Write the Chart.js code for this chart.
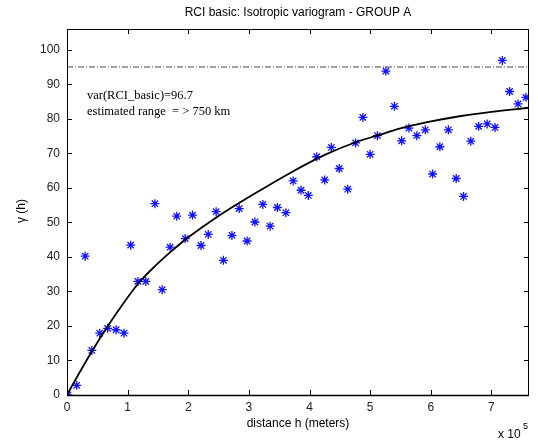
<!DOCTYPE html>
<html>
<head>
<meta charset="utf-8">
<script src="https://cdn.jsdelivr.net/npm/chart.js@4"></script>
<style>
  body { margin: 0; background: #fff; }
  canvas { display: block; }
</style>
</head>
<body>
<canvas id="vario" width="538" height="440"></canvas>
<script>
// experimental variogram (lag distance in meters, semivariance)
const lagDist = [1500, 16000, 30000, 41000, 54000, 67000, 81000, 94000, 105000, 117000,
  130000, 145000, 157000, 170000, 181000, 195000, 207000, 221000, 233000, 246000,
  258000, 272000, 284000, 297000, 310000, 323000, 335000, 347000, 361000, 373000,
  386000, 398000, 412000, 425000, 436000, 449000, 463000, 476000, 488000, 500000,
  512000, 526000, 540000, 552000, 564000, 577000, 591000, 603000, 615000, 629000,
  642000, 654000, 666000, 679000, 693000, 706000, 718000, 730000, 744000, 757000];
const gammaVals = [0, 2.8, 40.2, 12.9, 17.9, 19.3, 18.9, 17.9, 43.4, 32.9,
  32.9, 55.4, 30.5, 42.8, 51.8, 45.3, 52.1, 43.3, 46.5, 53.1,
  39.0, 46.2, 54.0, 44.6, 50.1, 55.2, 48.9, 54.3, 52.8, 62.0,
  59.3, 57.8, 69.0, 62.3, 71.7, 65.6, 59.6, 73.0, 80.4, 69.7,
  75.1, 93.8, 83.6, 73.6, 77.3, 75.1, 76.8, 64.0, 71.9, 76.8,
  62.7, 57.5, 73.5, 77.8, 78.5, 77.5, 96.9, 87.9, 84.3, 86.2];

// fitted model curve
const modelDist = [0, 10000, 20000, 40000, 66000, 96000, 120000, 145000, 170000, 198000,
  236000, 269000, 316000, 371000, 426000, 476000, 511000, 550000, 594000, 650000, 700000, 762000];
const modelGamma = [0, 3.2, 6.3, 12.3, 19.6, 27.3, 32.8, 37.3, 41.3, 45.4,
  50.2, 54.0, 59.0, 64.6, 69.6, 73.2, 75.1, 77.2, 79.0, 80.8, 82.0, 83.2];

const sill = 95;
const xMax = 762000;
const yMax = 106;
const xTicks = [0, 1, 2, 3, 4, 5, 6, 7];   // x 10^5 m
const yTicks = [0, 10, 20, 30, 40, 50, 60, 70, 80, 90, 100];

const tickFont = { family: 'Liberation Sans, Arial, sans-serif', size: 12 };

const matlabBox = {
  id: 'matlabBox',
  afterDraw(chart) {
    const { ctx, chartArea: a, scales: { x, y } } = chart;
    ctx.save();
    ctx.strokeStyle = '#000';
    ctx.lineWidth = 1;
    ctx.strokeRect(a.left + 0.5, a.top + 0.5, a.right - a.left - 1, a.bottom - a.top);
    ctx.beginPath();
    xTicks.forEach(t => {
      const px = Math.round(x.getPixelForValue(t * 1e5)) + 0.5;
      ctx.moveTo(px, a.bottom); ctx.lineTo(px, a.bottom - 5);
      ctx.moveTo(px, a.top); ctx.lineTo(px, a.top + 5);
    });
    yTicks.forEach(t => {
      const py = Math.round(y.getPixelForValue(t)) + 0.5;
      ctx.moveTo(a.left, py); ctx.lineTo(a.left + 5, py);
      ctx.moveTo(a.right, py); ctx.lineTo(a.right - 5, py);
    });
    ctx.stroke();
    // bottom axis line a bit heavier like the original
    ctx.lineWidth = 1.5;
    ctx.beginPath();
    ctx.moveTo(a.left, a.bottom + 0.5); ctx.lineTo(a.right, a.bottom + 0.5);
    ctx.stroke();

    ctx.fillStyle = '#000';
    ctx.font = '12px "Liberation Sans", Arial, sans-serif';
    ctx.textAlign = 'center';
    ctx.textBaseline = 'middle';
    ctx.fillText('RCI basic: Isotropic variogram - GROUP A', (a.left + a.right) / 2, 13);
    ctx.fillText('distance h (meters)', (a.left + a.right) / 2, 424);
    ctx.textAlign = 'left';
    ctx.fillText('x 10', 498, 435);
    ctx.font = '9px "Liberation Sans", Arial, sans-serif';
    ctx.fillText('5', 523, 427);

    ctx.save();
    ctx.translate(22, 211);
    ctx.rotate(-Math.PI / 2);
    ctx.font = '12px "Liberation Sans", Arial, sans-serif';
    ctx.textAlign = 'center';
    ctx.fillText('\u03b3 (h)', 0, 0);
    ctx.restore();

    ctx.font = '12.5px "Liberation Serif", "Times New Roman", serif';
    ctx.textAlign = 'left';
    ctx.fillText('var(RCI_basic)=96.7', 87, 96);
    ctx.fillText('estimated range  = > 750 km', 87, 112);
    ctx.restore();
  }
};

new Chart(document.getElementById('vario'), {
  type: 'scatter',
  data: {
    datasets: [
      {
        label: 'sill',
        type: 'line',
        data: [{ x: 0, y: sill }, { x: xMax, y: sill }],
        borderColor: '#444',
        borderWidth: 1,
        borderDash: [6, 2, 1, 2],
        pointRadius: 0
      },
      {
        label: 'model',
        type: 'line',
        data: modelDist.map((d, i) => ({ x: d, y: modelGamma[i] })),
        borderColor: '#000',
        borderWidth: 1.8,
        pointRadius: 0,
        cubicInterpolationMode: 'monotone'
      },
      {
        label: 'experimental',
        data: lagDist.map((d, i) => ({ x: d, y: gammaVals[i] })),
        pointStyle: 'star',
        pointRadius: 4.5,
        borderColor: '#1010ff',
        backgroundColor: '#1010ff',
        borderWidth: 1.3
      }
    ]
  },
  options: {
    responsive: false,
    animation: false,
    devicePixelRatio: 1,
    layout: { padding: { top: 29, right: 9, left: 0, bottom: 0 } },
    plugins: { legend: { display: false }, tooltip: { enabled: false } },
    scales: {
      x: {
        type: 'linear',
        min: 0,
        max: xMax,
        grid: { display: false, tickLength: 0 },
        border: { display: false },
        afterFit: s => { s.height = 45; },
        afterBuildTicks: s => { s.ticks = xTicks.map(v => ({ value: v * 1e5 })); },
        ticks: {
          padding: 5,
          color: '#222',
          font: tickFont,
          maxRotation: 0,
          autoSkip: false,
          callback: v => v / 1e5
        }
      },
      y: {
        min: 0,
        max: yMax,
        grid: { display: false, tickLength: 0 },
        border: { display: false },
        afterFit: s => { s.width = 67; },
        afterBuildTicks: s => { s.ticks = yTicks.map(v => ({ value: v })); },
        ticks: {
          padding: 7,
          color: '#222',
          font: tickFont,
          autoSkip: false
        }
      }
    }
  },
  plugins: [matlabBox]
});
</script>
</body>
</html>
